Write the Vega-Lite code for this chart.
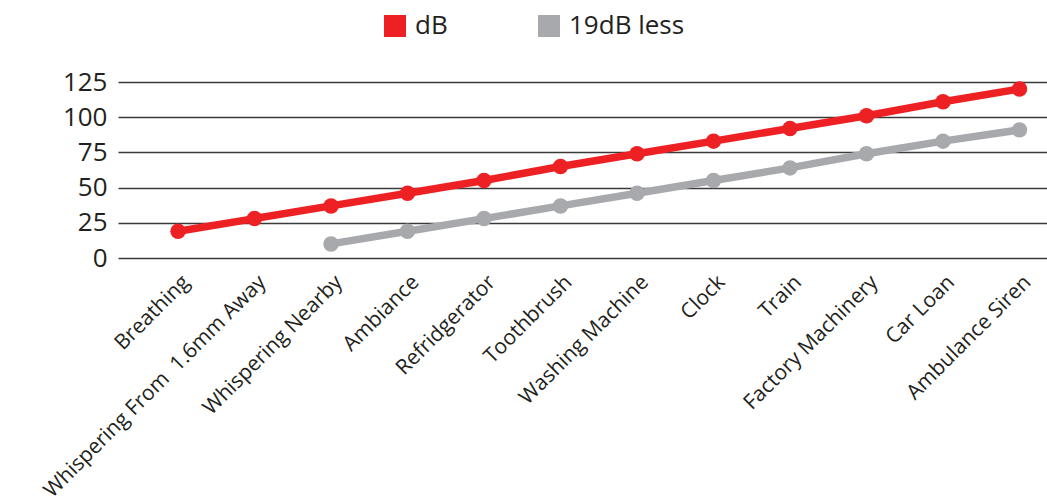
{
  "$schema": "https://vega.github.io/schema/vega-lite/v6.json",
  "autosize": "none",
  "width": 929,
  "height": 176,
  "padding": {"left": 118, "top": 82, "right": 0, "bottom": 245},
  "background": "white",
  "config": {
    "font": "Open Sans",
    "view": {"stroke": null},
    "axis": {"labelColor": "#231f20", "labelFont": "Open Sans"},
    "legend": {"labelColor": "#231f20", "labelFont": "Open Sans"}
  },
  "data": {
    "values": [
      {"item": "Breathing", "series": "dB", "value": 19},
      {"item": "Whispering From \u00a01.6mm Away", "series": "dB", "value": 28},
      {"item": "Whispering Nearby", "series": "dB", "value": 37},
      {"item": "Ambiance", "series": "dB", "value": 46},
      {"item": "Refridgerator", "series": "dB", "value": 55},
      {"item": "Toothbrush", "series": "dB", "value": 65},
      {"item": "Washing Machine", "series": "dB", "value": 74},
      {"item": "Clock", "series": "dB", "value": 83},
      {"item": "Train", "series": "dB", "value": 92},
      {"item": "Factory Machinery", "series": "dB", "value": 101},
      {"item": "Car Loan", "series": "dB", "value": 111},
      {"item": "Ambulance Siren", "series": "dB", "value": 120},
      {"item": "Whispering Nearby", "series": "19dB less", "value": 10},
      {"item": "Ambiance", "series": "19dB less", "value": 19},
      {"item": "Refridgerator", "series": "19dB less", "value": 28},
      {"item": "Toothbrush", "series": "19dB less", "value": 37},
      {"item": "Washing Machine", "series": "19dB less", "value": 46},
      {"item": "Clock", "series": "19dB less", "value": 55},
      {"item": "Train", "series": "19dB less", "value": 64},
      {"item": "Factory Machinery", "series": "19dB less", "value": 74},
      {"item": "Car Loan", "series": "19dB less", "value": 83},
      {"item": "Ambulance Siren", "series": "19dB less", "value": 91}
    ]
  },
  "encoding": {
    "x": {
      "field": "item",
      "type": "nominal",
      "sort": null,
      "scale": {"type": "point", "padding": 0.572, "align": 0.686},
      "axis": {
        "title": null,
        "domain": false,
        "ticks": false,
        "grid": false,
        "labelAngle": -45,
        "labelFontSize": 21,
        "labelPadding": 13,
        "labelLimit": 500
      }
    },
    "y": {
      "field": "value",
      "type": "quantitative",
      "scale": {"domain": [0, 125], "nice": false},
      "axis": {
        "title": null,
        "domain": false,
        "ticks": false,
        "values": [0, 25, 50, 75, 100, 125],
        "grid": true,
        "gridColor": "#3a3a3a",
        "gridWidth": 1.5,
        "labelFontSize": 26,
        "labelPadding": 11
      }
    },
    "color": {
      "field": "series",
      "type": "nominal",
      "scale": {"domain": ["dB", "19dB less"], "range": ["#ed2024", "#a7a9ac"]},
      "legend": {
        "title": null,
        "orient": "none",
        "direction": "horizontal",
        "legendX": 264,
        "legendY": -69,
        "symbolType": "square",
        "symbolSize": 484,
        "symbolStrokeWidth": 0,
        "symbolOpacity": 1,
        "labelFontSize": 26,
        "labelOffset": 7,
        "columnPadding": 88
      }
    }
  },
  "layer": [
    {"mark": {"type": "line", "strokeWidth": 7.5}},
    {"mark": {"type": "point", "filled": true, "size": 240, "opacity": 1}}
  ]
}
